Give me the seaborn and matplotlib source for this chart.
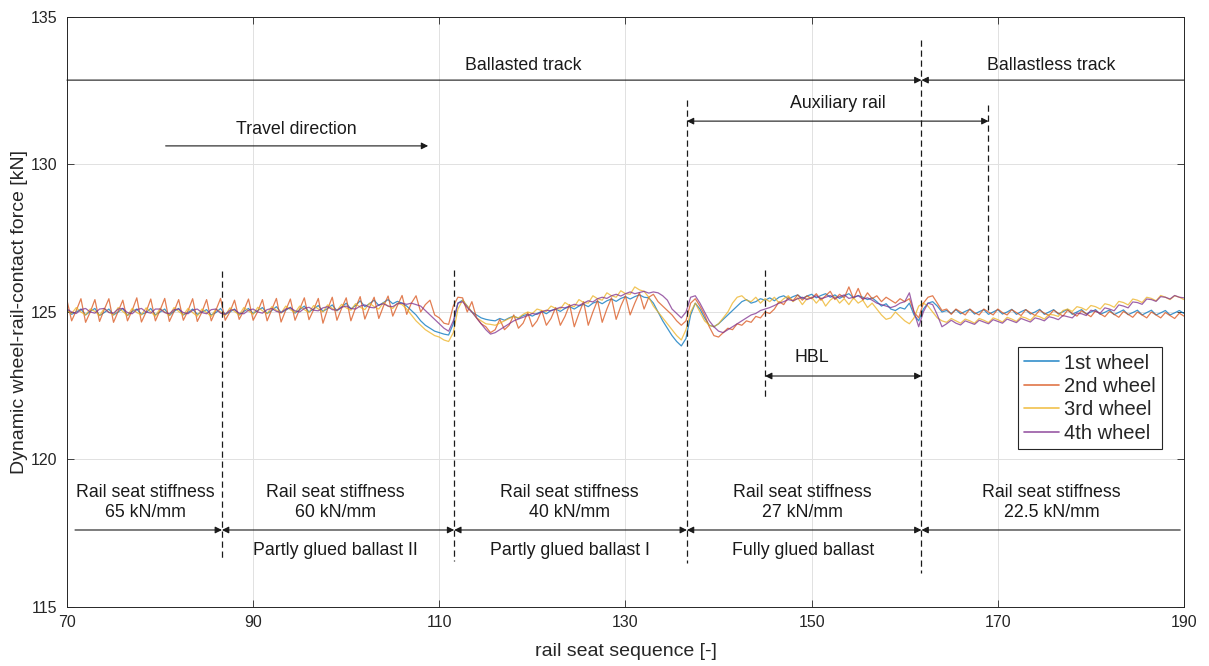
import numpy as np
import pandas as pd
import matplotlib
matplotlib.use("Agg")
import matplotlib.pyplot as plt
import seaborn as sns

# rail seat positions (half-seat sampling)
seat = np.linspace(70, 190, 241)

wheel_1 = [
    125.08, 124.92, 125.00, 125.10, 124.90, 125.02, 125.12, 124.88, 124.98, 125.10,
    124.90, 125.00, 125.12, 124.88, 125.02, 125.10, 124.92, 124.98, 125.12, 124.90,
    125.00, 125.10, 124.88, 125.02, 125.12, 124.90, 124.98, 125.10, 124.92, 125.00,
    125.08, 124.90, 124.98, 125.12, 124.92, 125.00, 125.10, 124.90, 125.02, 125.12,
    124.95, 125.05, 125.15, 124.95, 125.05, 125.18, 124.98, 125.06, 125.16, 124.96,
    125.08, 125.20, 125.00, 125.10, 125.22, 125.02, 125.12, 125.24, 125.04, 125.16,
    125.30, 125.10, 125.22, 125.38, 125.18, 125.28, 125.40, 125.22, 125.32, 125.42,
    125.28, 125.36, 125.30, 125.20, 125.05, 124.90, 124.70, 124.55, 124.45, 124.35,
    124.30, 124.25, 124.22, 124.60, 125.30, 125.40, 125.20, 125.00, 124.90, 124.80,
    124.75, 124.72, 124.70, 124.78, 124.72, 124.80, 124.86, 124.78, 124.88, 124.92,
    124.86, 124.95, 125.02, 124.94, 125.05, 125.10, 125.02, 125.12, 125.18, 125.10,
    125.20, 125.26, 125.18, 125.30, 125.36, 125.28, 125.38, 125.44, 125.36, 125.46,
    125.52, 125.44, 125.52, 125.58, 125.50, 125.48, 125.30, 125.00, 124.70, 124.45,
    124.20, 124.00, 123.85, 124.10, 124.90, 125.30, 125.10, 124.80, 124.55, 124.50,
    124.60, 124.75, 124.90, 125.05, 125.20, 125.35, 125.42, 125.30, 125.35, 125.45,
    125.40, 125.48, 125.38, 125.50, 125.55, 125.44, 125.52, 125.58, 125.46, 125.54,
    125.60, 125.48, 125.56, 125.62, 125.50, 125.58, 125.46, 125.55, 125.62, 125.48,
    125.56, 125.50, 125.42, 125.48, 125.35, 125.20, 125.28, 125.10, 125.05, 125.15,
    125.10, 125.30, 124.90, 124.70, 125.10, 125.30, 125.35, 125.20, 125.00, 125.05,
    124.95, 125.08, 124.94, 125.02, 125.09, 124.93, 125.01, 125.08, 124.92, 125.00,
    125.08, 124.93, 125.00, 125.09, 124.92, 125.01, 125.08, 124.93, 125.00, 125.09,
    124.92, 125.00, 125.08, 124.93, 125.01, 125.09, 124.92, 125.00, 125.08, 124.93,
    125.00, 125.08, 124.92, 124.99, 125.07, 124.91, 124.99, 125.07, 124.91, 124.98,
    125.06, 124.90, 124.98, 125.06, 124.90, 124.97, 125.05, 124.90, 124.97, 125.05,
    124.95,
]

wheel_2 = [
    125.40, 124.70, 125.05, 125.45, 124.65, 125.00, 125.42, 124.68, 125.08, 125.45,
    124.65, 125.02, 125.40, 124.70, 125.05, 125.48, 124.66, 125.00, 125.44, 124.70,
    125.06, 125.46, 124.68, 125.02, 125.42, 124.72, 125.04, 125.45, 124.68, 125.00,
    125.42, 124.70, 125.06, 125.46, 124.72, 125.00, 125.40, 124.75, 125.05, 125.44,
    124.72, 125.02, 125.42, 124.70, 125.08, 125.46, 124.66, 125.06, 125.44, 124.72,
    125.10, 125.48, 124.74, 125.08, 125.46, 124.62, 125.10, 125.50, 124.72, 125.12,
    125.48, 124.70, 125.14, 125.52, 124.76, 125.16, 125.50, 124.78, 125.20, 125.54,
    124.86, 125.22, 125.56, 124.92, 125.30, 125.55, 125.00, 125.25, 125.40, 124.90,
    124.80, 124.62, 124.58, 125.20, 125.50, 125.48, 125.00, 125.35, 124.80, 124.60,
    124.50, 124.30, 124.40, 124.75, 124.40, 124.55, 124.90, 124.45, 124.62, 124.98,
    124.50, 124.70, 125.05, 124.55, 124.78, 125.15, 124.55, 124.85, 125.25, 124.50,
    124.95, 125.35, 124.55, 125.00, 125.40, 124.65, 125.10, 125.48, 124.75, 125.20,
    125.55, 124.90, 125.30, 125.65, 125.10, 125.50, 125.60, 125.35, 125.20, 125.05,
    124.90, 124.70, 124.55, 124.70, 125.30, 125.45, 125.20, 124.90, 124.50, 124.20,
    124.15, 124.30, 124.45, 124.40, 124.60, 124.55, 124.70, 124.65, 124.85, 124.80,
    125.00, 124.95, 125.10, 125.35, 125.25, 125.50, 125.38, 125.58, 125.40, 125.55,
    125.45, 125.62, 125.40, 125.55, 125.70, 125.42, 125.60, 125.48, 125.85, 125.45,
    125.80, 125.40, 125.65, 125.45, 125.55, 125.35, 125.50, 125.40, 125.30, 125.45,
    125.35, 125.45, 125.00, 124.80, 125.30, 125.50, 125.55, 125.30, 125.05, 125.10,
    124.92, 125.10, 125.00, 124.90, 125.10, 124.98, 124.90, 125.10, 125.00, 124.90,
    125.10, 124.98, 124.90, 125.08, 124.98, 124.88, 125.08, 124.98, 124.88, 125.06,
    124.96, 124.88, 125.06, 124.96, 124.86, 125.06, 124.96, 124.86, 125.04, 124.94,
    124.84, 125.04, 124.94, 124.84, 125.02, 124.92, 124.82, 125.02, 124.92, 124.82,
    125.00, 124.90, 124.80, 125.00, 124.90, 124.80, 124.98, 124.88, 124.78, 124.96,
    124.86,
]

wheel_3 = [
    125.05, 124.95, 125.15, 125.00, 124.90, 125.10, 125.02, 124.88, 125.12, 125.00,
    124.90, 125.15, 125.02, 124.88, 125.12, 124.98, 124.90, 125.14, 125.00, 124.86,
    125.12, 125.00, 124.88, 125.15, 125.02, 124.90, 125.12, 124.98, 124.86, 125.10,
    124.98, 124.85, 125.10, 125.00, 124.88, 125.14, 125.02, 124.90, 125.15, 125.04,
    124.92, 125.16, 125.04, 124.94, 125.18, 125.06, 124.96, 125.20, 125.08, 124.98,
    125.20, 125.08, 124.98, 125.22, 125.10, 125.00, 125.24, 125.12, 125.04, 125.26,
    125.14, 125.06, 125.28, 125.16, 125.08, 125.30, 125.18, 125.10, 125.32, 125.20,
    125.12, 125.30, 125.25, 125.10, 124.90, 124.70, 124.55, 124.40, 124.30, 124.20,
    124.15, 124.05, 124.00, 124.30, 125.10, 125.40, 125.20, 125.00, 124.80, 124.70,
    124.60, 124.58, 124.55, 124.62, 124.70, 124.78, 124.85, 124.80, 124.92, 125.00,
    124.95, 125.10, 125.05, 125.02, 125.20, 125.12, 125.10, 125.32, 125.22, 125.18,
    125.42, 125.32, 125.30, 125.55, 125.45, 125.40, 125.65, 125.55, 125.50, 125.72,
    125.62, 125.60, 125.85, 125.75, 125.70, 125.50, 125.20, 125.00, 124.80, 124.60,
    124.40, 124.20, 124.05, 124.40, 125.00, 125.30, 125.00, 124.70, 124.55, 124.50,
    124.60, 124.80, 125.00, 125.30, 125.50, 125.55, 125.40, 125.35, 125.50, 125.30,
    125.45, 125.35, 125.50, 125.30, 125.45, 125.55, 125.35, 125.48, 125.25, 125.45,
    125.50, 125.30, 125.48, 125.20, 125.40, 125.52, 125.30, 125.45, 125.25, 125.48,
    125.30, 125.40, 125.15, 125.30, 125.10, 124.90, 124.75, 124.80, 125.00, 124.85,
    124.70, 124.60, 124.80, 125.20, 125.30, 125.20, 125.00, 124.80, 124.70, 124.65,
    124.78, 124.70, 124.62, 124.76, 124.70, 124.62, 124.78, 124.72, 124.64, 124.80,
    124.74, 124.66, 124.82, 124.76, 124.68, 124.84, 124.80, 124.72, 124.88, 124.84,
    124.76, 124.92, 124.90, 124.85, 125.05, 125.10, 125.02, 125.18, 125.14, 125.06,
    125.22, 125.18, 125.10, 125.28, 125.24, 125.16, 125.36, 125.32, 125.24, 125.44,
    125.40, 125.32, 125.50, 125.46, 125.38, 125.56, 125.50, 125.42, 125.55, 125.50,
    125.42,
]

wheel_4 = [
    125.10, 125.00, 124.95, 125.08, 125.12, 125.00, 124.96, 125.10, 125.12, 124.98,
    124.96, 125.10, 125.12, 124.98, 124.94, 125.08, 125.12, 125.00, 124.96, 125.10,
    125.10, 124.98, 124.94, 125.08, 125.10, 124.98, 124.94, 125.06, 125.10, 124.98,
    124.94, 125.08, 125.10, 124.96, 124.92, 125.06, 125.08, 124.96, 124.94, 125.06,
    125.10, 125.00, 124.96, 125.08, 125.12, 125.02, 124.98, 125.10, 125.14, 125.04,
    125.00, 125.12, 125.16, 125.06, 125.04, 125.14, 125.18, 125.08, 125.06, 125.16,
    125.20, 125.12, 125.10, 125.20, 125.24, 125.16, 125.14, 125.24, 125.28, 125.20,
    125.18, 125.28, 125.30, 125.26, 125.30, 125.25, 125.20, 125.05, 124.90, 124.75,
    124.60, 124.45, 124.35, 124.70, 125.30, 125.35, 125.15, 125.00, 124.80, 124.60,
    124.40, 124.25, 124.30, 124.40, 124.50, 124.60, 124.70, 124.76, 124.82, 124.88,
    124.95, 124.92, 125.00, 125.06, 125.04, 125.10, 125.16, 125.14, 125.20, 125.26,
    125.22, 125.30, 125.38, 125.34, 125.45, 125.50, 125.46, 125.55, 125.60, 125.54,
    125.62, 125.68, 125.62, 125.66, 125.70, 125.64, 125.68, 125.65, 125.55, 125.40,
    125.10, 124.95, 124.80, 125.00, 125.50, 125.55, 125.30, 125.00, 124.70, 124.50,
    124.35, 124.30, 124.40, 124.50, 124.60, 124.70, 124.80, 124.90, 124.95, 125.05,
    125.10, 125.15, 125.22, 125.30, 125.35, 125.42, 125.38, 125.45, 125.50, 125.42,
    125.48, 125.55, 125.45, 125.50, 125.56, 125.46, 125.52, 125.58, 125.46, 125.50,
    125.55, 125.44, 125.48, 125.40, 125.30, 125.25, 125.20, 125.15, 125.20, 125.30,
    125.35, 125.65, 125.00, 124.50, 125.00, 125.30, 125.25, 124.90, 124.50, 124.60,
    124.72, 124.62, 124.56, 124.70, 124.64, 124.58, 124.72, 124.66, 124.60, 124.74,
    124.68, 124.62, 124.76, 124.70, 124.64, 124.78, 124.72, 124.66, 124.80, 124.76,
    124.70, 124.84, 124.80, 124.74, 124.88, 124.84, 124.80, 124.96, 124.94, 124.88,
    125.06, 125.02, 124.96, 125.14, 125.10, 125.04, 125.24, 125.20, 125.14, 125.34,
    125.32, 125.26, 125.44, 125.42, 125.36, 125.52, 125.50, 125.44, 125.56, 125.50,
    125.48,
]

wheel_names = ["1st wheel", "2nd wheel", "3rd wheel", "4th wheel"]
wheel_colors = ["#0072BD", "#D95319", "#EDB120", "#7E2F8E"]

# section boundaries along the track (rail seat numbers)
bound_65_60 = 86.65
bound_60_40 = 111.6
bound_40_27 = 136.6
hbl_start = 145.0
bound_27_22 = 161.8
aux_end = 169.0

stiffness_labels = ["Rail seat stiffness\n65 kN/mm", "Rail seat stiffness\n60 kN/mm",
                    "Rail seat stiffness\n40 kN/mm", "Rail seat stiffness\n27 kN/mm",
                    "Rail seat stiffness\n22.5 kN/mm"]
stiffness_x = [78.4, 98.8, 124.0, 149.05, 175.8]
ballast_labels = ["Partly glued ballast II", "Partly glued ballast I", "Fully glued ballast"]
ballast_x = [98.8, 124.0, 149.05]

df = pd.concat(
    [pd.DataFrame({"seat": seat, "force": vals, "wheel": name})
     for vals, name in zip([wheel_1, wheel_2, wheel_3, wheel_4], wheel_names)],
    ignore_index=True,
)

sns.set_theme(style="white")
plt.rcParams["font.family"] = ["Liberation Sans", "DejaVu Sans"]

fig = plt.figure(figsize=(12.09, 6.66), dpi=100)
ax = fig.add_axes([0.0554, 0.0886, 0.9239, 0.8859])

sns.lineplot(data=df, x="seat", y="force", hue="wheel", hue_order=wheel_names,
             palette=wheel_colors, linewidth=0.9, alpha=0.75, errorbar=None,
             estimator=None, sort=False, ax=ax)

ax.set_xlim(70, 190)
ax.set_ylim(115, 135)
ax.set_xticks([70, 90, 110, 130, 150, 170, 190])
ax.set_yticks([115, 120, 125, 130, 135])
ax.grid(True, color="#e1e1e1", linewidth=0.7)
ax.set_axisbelow(True)
for sp in ax.spines.values():
    sp.set_color("#262626")
    sp.set_linewidth(0.7)
ax.tick_params(axis="both", direction="in", length=5, width=0.6, colors="#262626",
               labelsize=11.5, top=True, right=True, bottom=True, left=True,
               labelcolor="#262626")
ax.tick_params(axis="y", pad=7)
ax.tick_params(axis="x", pad=6)
ax.set_xlabel("rail seat sequence [-]", fontsize=14, color="#262626", labelpad=9)
ax.set_ylabel("Dynamic wheel-rail-contact force [kN]", fontsize=14, color="#262626",
              labelpad=2)

ink = "#1a1a1a"
txt_kw = dict(fontsize=12.8, color=ink, ha="center", va="center")


def arrow(x0, x1, y, style):
    ax.annotate("", xy=(x1, y), xytext=(x0, y),
                arrowprops=dict(arrowstyle=style, color=ink, lw=0.8,
                                shrinkA=0, shrinkB=0, mutation_scale=10))


def vdash(x, y0, y1):
    ax.plot([x, x], [y0, y1], color=ink, lw=0.9, ls=(0, (5, 3)), zorder=5)


# track type
arrow(70, bound_27_22, 132.86, "-|>")
arrow(190, bound_27_22, 132.86, "-|>")
ax.text(119.0, 133.37, "Ballasted track", **txt_kw)
ax.text(175.7, 133.37, "Ballastless track", **txt_kw)

# travel direction
arrow(80.6, 108.8, 130.63, "-|>")
ax.text(94.6, 131.17, "Travel direction", **txt_kw)

# auxiliary rail
arrow(bound_40_27, aux_end, 131.47, "<|-|>")
ax.text(152.8, 132.08, "Auxiliary rail", **txt_kw)

# HBL
arrow(hbl_start, bound_27_22, 122.83, "<|-|>")
ax.text(150.0, 123.47, "HBL", **txt_kw)

# section boundaries
vdash(bound_65_60, 126.4, 116.55)
vdash(bound_60_40, 126.42, 116.55)
vdash(bound_40_27, 132.19, 116.5)
vdash(hbl_start, 126.42, 122.0)
vdash(bound_27_22, 134.22, 116.15)
vdash(aux_end, 132.02, 125.07)

# stiffness sections
y_sec = 117.61
arrow(70.86, bound_65_60, y_sec, "-|>")
arrow(bound_65_60, bound_60_40, y_sec, "<|-|>")
arrow(bound_60_40, bound_40_27, y_sec, "<|-|>")
arrow(bound_40_27, bound_27_22, y_sec, "<|-|>")
arrow(189.6, bound_27_22, y_sec, "-|>")
for lab, xc in zip(stiffness_labels, stiffness_x):
    ax.text(xc, 118.53, lab, linespacing=1.25, **txt_kw)
for lab, xc in zip(ballast_labels, ballast_x):
    ax.text(xc, 116.93, lab, **txt_kw)

leg = ax.legend(loc="lower right", bbox_to_anchor=(0.980, 0.268), fontsize=14.5,
                frameon=True, fancybox=False, edgecolor="#262626", framealpha=1,
                handlelength=1.75, handletextpad=0.25, labelspacing=0.22,
                borderpad=0.3, borderaxespad=0)
leg.get_frame().set_linewidth(0.8)
for h in leg.get_lines():
    h.set_linewidth(1.2)
    h.set_alpha(0.8)

fig.savefig("out.png", dpi=100)
